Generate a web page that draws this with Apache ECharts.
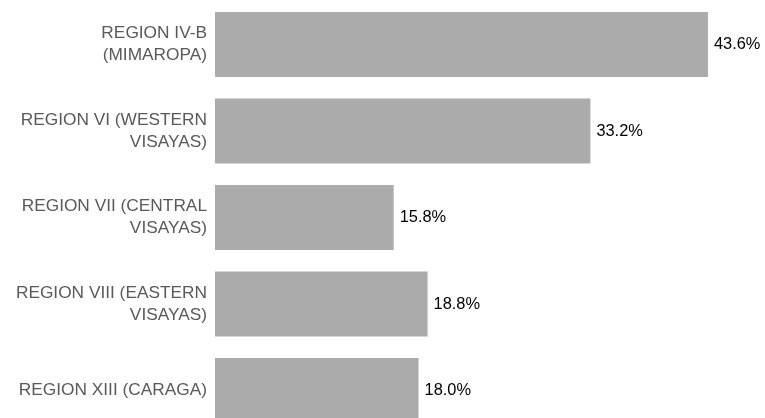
<!DOCTYPE html>
<html><head><meta charset="utf-8">
<script src="https://cdn.jsdelivr.net/npm/echarts@6/dist/echarts.min.js"></script>
<style>html,body{margin:0;padding:0;background:#fff;overflow:hidden}#c{width:765px;height:434px}</style>
</head><body><div id="c"></div>
<script>
var categories = ["REGION IV-B\n(MIMAROPA)", "REGION VI (WESTERN\nVISAYAS)", "REGION VII (CENTRAL\nVISAYAS)", "REGION VIII (EASTERN\nVISAYAS)", "REGION XIII (CARAGA)"];
var values = [43.6, 33.2, 15.8, 18.8, 18.0];

var chart = echarts.init(document.getElementById('c'), null, {renderer: 'canvas'});
chart.setOption({
  animation: false,
  grid: {left: 215, top: 1.25, width: 508.8, height: 432.5, containLabel: false},
  xAxis: {type: 'value', min: 0, max: 45, show: false},
  yAxis: {
    type: 'category', data: categories, inverse: true,
    axisLine: {show: false}, axisTick: {show: false}, splitLine: {show: false},
    axisLabel: {margin: 8, color: '#595959', fontFamily: 'Liberation Sans', fontSize: 17.3, lineHeight: 22, align: 'right'}
  },
  series: [{
    type: 'bar', data: values, barWidth: 65,
    itemStyle: {color: '#ababab'},
    label: {show: true, position: 'right', distance: 6, color: '#000', fontFamily: 'Liberation Sans', fontSize: 16.4,
      formatter: function(p){ return p.value.toFixed(1) + '%'; }}
  }]
});
</script></body></html>
